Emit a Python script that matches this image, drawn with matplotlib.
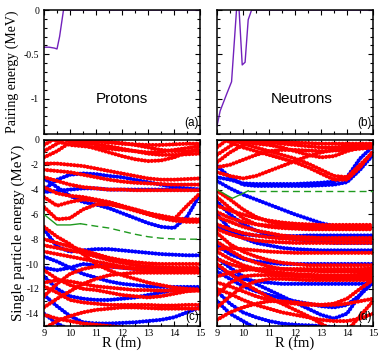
import numpy as np
import matplotlib
matplotlib.use("Agg")
import matplotlib.pyplot as plt
from matplotlib.ticker import MultipleLocator

# ---------------- data ----------------
R = [9, 9.5, 10, 10.5, 11, 11.5, 12, 12.5, 13, 13.5, 14, 14.5, 15]

# pairing energies
pair_p_R = [9.0, 9.2, 9.4, 9.5, 9.6, 9.75, 10.0, 15.0]
pair_p_E = [-0.42, -0.42, -0.43, -0.44, -0.30, 0.0, 0.0, 0.0]
pair_n_R = [9.0, 9.12, 9.37, 9.56, 9.75, 9.85, 9.97, 10.08, 10.2, 10.33, 15.0]
pair_n_E = [-1.31, -1.14, -0.95, -0.81, 0.0, 0.0, -0.62, -0.59, -0.11, 0.0, 0.0]

# proton single-particle levels (c)
prot_red = [
    [-0.4, 0.2, 0.8, 1, 1, 1, 1, 1, 1, 1, 1, 1, 1],
    [-0.9, -0.3, 0.3, 1, 1, 1, 1, 1, 1, 1, 1, 1, 1],
    [-1.4, -0.9, -0.2, 0.5, 1, 1, 1, 1, 1, 1, 1, 1, 1],
    [0.5, 0.2, -0.1, -0.4, -0.7, -1.0, -1.3, -1.55, -1.7, -1.65, -1.4, -1.0, -0.7],
    [1, 0.4, 0.0, -0.2, -0.35, -0.5, -0.7, -0.9, -1.0, -0.95, -0.8, -0.65, -0.5],
    [1, 1, 0.3, 0.05, -0.1, -0.15, -0.25, -0.4, -0.6, -0.8, -0.9, -0.9, -0.85],
    [1, 0.5, 0.1, -0.1, -0.15, -0.2, -0.3, -0.35, -0.4, -0.4, -0.35, -0.3, -0.3],
    [0.5, -0.1, -0.4, -0.5, -0.6, -0.7, -0.8, -0.9, -1.1, -1.2, -1.2, -1.15, -1.1],
    [-1.9, -1.9, -2.0, -2.1, -2.3, -2.5, -2.7, -2.9, -3.1, -3.2, -3.2, -3.15, -3.1],
    [-2.4, -2.5, -2.6, -2.8, -3.0, -3.2, -3.35, -3.45, -3.5, -3.55, -3.6, -3.6, -3.6],
    [-3.0, -3.3, -3.6, -3.8, -3.9, -4.0, -4.0, -4.05, -4.05, -4.05, -4.05, -4.05, -4.05],
    [-3.8, -4.3, -4.5, -4.6, -4.8, -5.0, -5.3, -5.6, -5.9, -6.2, -6.4, -5.3, -4.3],
    [-4.6, -5.3, -5.0, -4.8, -4.9, -5.1, -5.4, -5.7, -6.0, -6.3, -6.5, -6.6, -6.6],
    [-5.4, -6.4, -6.3, -5.6, -5.2, -5.2, -5.4, -5.6, -5.9, -6.1, -6.3, -6.4, -6.4],
    [-7.0, -7.8, -8.4, -9.2, -10.0, -10.5, -10.9, -11.2, -11.5, -11.7, -11.9, -12.0, -12.05],
    [-8.0, -8.3, -8.6, -8.9, -9.2, -9.5, -9.7, -9.85, -9.95, -10.0, -10.0, -10.0, -10.0],
    [-8.5, -8.7, -8.9, -9.1, -9.4, -9.7, -9.9, -10.1, -10.2, -10.25, -10.3, -10.3, -10.3],
    [-9.0, -9.2, -9.4, -9.6, -9.8, -10.0, -10.2, -10.35, -10.45, -10.5, -10.5, -10.5, -10.5],
    [-12.6, -11.6, -10.8, -10.4, -10.2, -10.2, -10.3, -10.4, -10.5, -10.5, -10.55, -10.55, -10.55],
    [-13.5, -12.8, -12.2, -11.6, -11.2, -10.9, -10.8, -10.7, -10.7, -10.7, -10.7, -10.7, -10.7],
    [-11.5, -11.3, -11.4, -11.6, -11.8, -11.9, -12.0, -12.1, -12.1, -12.15, -12.15, -12.15, -12.15],
    [-11.8, -12.3, -12.9, -13.1, -13.2, -13.3, -13.3, -13.3, -13.3, -13.35, -13.35, -13.3, -13.3],
    [-10.5, -11.2, -11.7, -12.0, -12.1, -12.3, -12.5, -12.6, -12.7, -12.6, -12.4, -12.2, -12.1],
    [-14.1, -14.4, -14.6, -14.8, -14.9, -15.0, -15.1, -15.2, -15.3, -15.4, -15.5, -15.5, -15.5],
    [-15.2, -14.6, -14.2, -13.9, -13.7, -13.6, -13.5, -13.5, -13.55, -13.6, -13.6, -13.6, -13.6],
]
prot_blue = [
    [-4.0, -3.2, -2.8, -2.7, -2.75, -2.9, -3.0, -3.2, -3.4, -3.6, -3.8, -3.9, -4.0],
    [-3.1, -3.8, -4.5, -5.0, -5.2, -5.5, -5.9, -6.3, -6.7, -7.0, -7.1, -6.2, -4.4],
    [-4.2, -4.1, -4.0, -3.9, -3.9, -4.0, -4.0, -4.0, -4.0, -4.0, -4.0, -4.0, -4.0],
    [-7.2, -8.6, -9.0, -8.9, -8.8, -8.8, -8.9, -9.0, -9.1, -9.2, -9.25, -9.3, -9.3],
    [-9.4, -9.8, -10.3, -10.8, -11.1, -11.4, -11.6, -11.7, -11.8, -11.85, -11.85, -11.85, -11.85],
    [-10.3, -10.5, -10.3, -10.0, -10.1, -10.2, -10.3, -10.4, -10.4, -10.4, -10.4, -10.4, -10.4],
    [-11.0, -12.0, -12.6, -12.8, -12.9, -12.9, -12.8, -12.7, -12.5, -12.3, -12.1, -12.0, -11.95],
    [-12.5, -13.4, -14.2, -14.7, -14.8, -14.8, -14.75, -14.7, -14.6, -14.5, -14.3, -13.9, -13.5],
    [-14.0, -14.8, -15.3, -15.6, -15.8, -16, -16, -16, -16, -16, -16, -16, -16],
]

# neutron single-particle levels (d)
neut_red = [
    [-0.6, 0.2, 1, 1, 1, 1, 1, 1, 1, 1, 1, 1, 1],
    [-1.2, -0.5, 0.2, 1, 1, 1, 1, 1, 1, 1, 1, 1, 1],
    [0.5, -0.2, -0.6, -0.9, -1.2, -1.5, -1.8, -2.2, -2.7, -3.2, -3.2, -2.2, -0.9],
    [1, 0.2, -0.3, -0.6, -0.9, -1.2, -1.5, -1.9, -2.4, -2.9, -3.0, -2.0, -1.0],
    [0.3, 0.0, -0.2, -0.3, -0.4, -0.6, -0.9, -1.2, -1.4, -1.3, -0.9, -0.6, -0.5],
    [1, 0.5, 0.0, -0.1, -0.2, -0.3, -0.4, -0.5, -0.6, -0.6, -0.5, -0.4, -0.35],
    [-1.8, -1.0, -0.4, -0.1, 0.0, -0.1, -0.2, -0.25, -0.3, -0.3, -0.3, -0.3, -0.3],
    [-2.2, -2.0, -1.6, -1.2, -0.9, -0.8, -0.8, -0.85, -0.9, -0.85, -0.8, -0.7, -0.6],
    [-2.6, -2.9, -3.1, -2.9, -2.5, -2.1, -1.7, -1.3, -1.0, -0.8, -0.7, -0.65, -0.6],
    [-4.1, -4.8, -5.6, -6.2, -6.6, -6.8, -6.9, -6.95, -7.0, -7.0, -7.0, -7.0, -7.0],
    [-4.6, -5.5, -6.3, -6.8, -7.0, -7.1, -7.15, -7.2, -7.2, -7.2, -7.2, -7.2, -7.2],
    [-5.3, -5.7, -6.0, -6.3, -6.5, -6.65, -6.75, -6.8, -6.85, -6.85, -6.85, -6.85, -6.85],
    [-5.8, -6.3, -6.6, -6.8, -6.9, -6.95, -7.0, -7.05, -7.1, -7.1, -7.1, -7.1, -7.1],
    [-6.2, -6.6, -7.0, -7.3, -7.5, -7.7, -7.8, -7.85, -7.9, -7.9, -7.9, -7.9, -7.9],
    [-6.8, -7.2, -7.5, -7.7, -7.85, -7.95, -8.0, -8.05, -8.05, -8.05, -8.05, -8.05, -8.05],
    [-7.2, -7.6, -7.9, -8.1, -8.2, -8.25, -8.3, -8.3, -8.3, -8.3, -8.3, -8.3, -8.3],
    [-8.8, -8.7, -8.8, -8.9, -9.0, -9.05, -9.1, -9.1, -9.1, -9.1, -9.1, -9.1, -9.1],
    [-7.5, -8.4, -9.0, -9.4, -9.7, -9.9, -10.0, -10.1, -10.1, -10.1, -10.1, -10.1, -10.1],
    [-11.0, -10.7, -10.5, -10.4, -10.4, -10.4, -10.4, -10.4, -10.4, -10.4, -10.4, -10.4, -10.35],
    [-8.2, -8.9, -9.5, -9.9, -10.2, -10.4, -10.5, -10.55, -10.6, -10.6, -10.6, -10.6, -10.6],
    [-9.0, -9.6, -10.1, -10.4, -10.6, -10.7, -10.8, -10.85, -10.9, -10.9, -10.9, -10.85, -10.8],
    [-9.6, -10.0, -10.3, -10.5, -10.7, -10.8, -10.9, -10.95, -11.0, -11.0, -11.0, -11.0, -11.0],
    [-12.5, -11.5, -11.0, -10.9, -10.9, -10.95, -11.0, -11.05, -11.1, -11.1, -11.1, -11.1, -11.1],
    [-13.5, -12.6, -11.8, -11.4, -11.2, -11.2, -11.25, -11.3, -11.3, -11.3, -11.3, -11.3, -11.3],
    [-10.0, -10.8, -11.5, -12.1, -12.7, -13.2, -13.7, -14.2, -14.8, -15.4, -16, -16, -16],
    [-11.5, -11.8, -12.2, -12.6, -12.9, -13.1, -13.2, -13.3, -13.3, -13.2, -12.8, -12.0, -11.3],
    [-12.0, -12.4, -12.9, -13.3, -13.6, -13.9, -14.1, -14.3, -14.5, -14.6, -14.6, -14.4, -14.0],
    [-14.5, -13.9, -13.5, -13.2, -13.0, -13.0, -13.1, -13.2, -13.3, -13.3, -13.2, -13.0, -12.8],
    [-16, -16, -16, -16, -16, -16, -16, -16, -16, -16, -15.4, -14.2, -13.0],
]
neut_blue = [
    [-3.0, -3.2, -3.5, -3.55, -3.55, -3.55, -3.55, -3.5, -3.45, -3.35, -3.0, -1.5, -0.5],
    [-2.1, -3.0, -3.6, -3.7, -3.7, -3.7, -3.7, -3.7, -3.65, -3.6, -3.4, -2.4, -1.2],
    [-3.3, -3.9, -4.4, -4.8, -5.2, -5.6, -6.0, -6.35, -6.7, -6.95, -7.05, -7.1, -7.1],
    [-5.0, -6.0, -6.8, -7.3, -7.6, -7.8, -8.0, -8.1, -8.2, -8.3, -8.3, -8.3, -8.3],
    [-7.0, -7.4, -7.6, -7.7, -7.75, -7.75, -7.75, -7.7, -7.7, -7.7, -7.7, -7.7, -7.7],
    [-6.0, -7.2, -7.9, -8.3, -8.5, -8.7, -8.8, -8.85, -8.9, -8.9, -8.9, -8.9, -8.9],
    [-8.5, -9.2, -9.6, -9.8, -9.9, -10.0, -10.0, -10.0, -10.0, -10.0, -10.0, -10.0, -10.0],
    [-10.2, -10.8, -11.2, -11.4, -11.5, -11.6, -11.6, -11.6, -11.6, -11.6, -11.6, -11.6, -11.6],
    [-9.5, -10.3, -11.0, -11.6, -12.1, -12.6, -13.1, -13.6, -14.1, -14.4, -14.0, -12.5, -11.0],
    [-10.6, -11.2, -11.8, -12.2, -12.5, -12.8, -13.0, -13.2, -13.4, -13.5, -13.3, -12.5, -11.5],
    [-12.2, -13.2, -13.9, -14.3, -14.6, -14.8, -14.9, -14.95, -15.0, -15.1, -15.2, -15.2, -15.2],
    [-13.0, -14.0, -14.6, -15.2, -16, -16, -16, -16, -16, -16, -16, -16, -16],
]

# Fermi levels (solid part, dashed part)
fermi_p_R_solid = [9.0, 9.5, 10.0, 10.4]
fermi_p_E_solid = [-6.0, -6.85, -6.85, -6.75]
fermi_p_R_dash = [10.4, 11, 11.5, 12, 12.5, 13, 13.5, 14, 14.5, 15]
fermi_p_E_dash = [-6.75, -6.95, -7.1, -7.35, -7.6, -7.8, -7.92, -7.98, -8.0, -8.0]
fermi_n_R_solid = [9.0, 9.5, 9.6, 10.0, 10.2]
fermi_n_E_solid = [-4.0, -4.6, -4.7, -4.3, -4.1]
fermi_n_R_dash = [10.2, 11, 12, 13, 14, 15]
fermi_n_E_dash = [-4.1, -4.1, -4.1, -4.1, -4.1, -4.1]

# ---------------- styling ----------------
RED = "#ff0000"
BLUE = "#0000ff"
PURPLE = "#7221bc"
GREEN = "#1f9a1f"
SERIF = ["Liberation Serif", "DejaVu Serif"]
SANS = ["Liberation Sans", "DejaVu Sans"]

W, H = 382, 354
fig = plt.figure(figsize=(W / 100, H / 100), dpi=100)

def ax_at(x0, x1, y0, y1):
    return fig.add_axes([x0 / W, 1 - y1 / H, (x1 - x0) / W, (y1 - y0) / H])

axa = ax_at(44, 200, 10, 134)
axb = ax_at(217, 373, 10, 134)
axc = ax_at(44, 200, 140, 326)
axd = ax_at(217, 373, 140, 326)

def style(ax):
    for s in ax.spines.values():
        s.set_linewidth(1.1)
    ax.set_xlim(9, 15)
    ax.xaxis.set_major_locator(MultipleLocator(1))
    ax.xaxis.set_minor_locator(MultipleLocator(0.5))
    ax.tick_params(which="both", direction="in", top=True, right=True,
                   width=0.8, labelsize=7)
    ax.tick_params(which="major", length=3.5)
    ax.tick_params(which="minor", length=2)

for ax in (axa, axb, axc, axd):
    style(ax)

for ax in (axa, axb):
    ax.set_ylim(-1.4, 0)
    ax.yaxis.set_major_locator(MultipleLocator(0.5))
    ax.yaxis.set_minor_locator(MultipleLocator(0.1))
for ax in (axc, axd):
    ax.set_ylim(-15, 0)
    ax.yaxis.set_major_locator(MultipleLocator(2))
    ax.yaxis.set_minor_locator(MultipleLocator(1))

axa.plot(pair_p_R, pair_p_E, color=PURPLE, lw=1.0)
axb.plot(pair_n_R, pair_n_E, color=PURPLE, lw=1.0)

dot = dict(lw=3.0, ls=(0, (0.01, 0.8)), dash_capstyle="round")
for ax, reds, blues in ((axc, prot_red, prot_blue), (axd, neut_red, neut_blue)):
    for e in blues:
        ax.plot(R, e, color=BLUE, **dot)
    for e in reds:
        ax.plot(R, e, color=RED, **dot)

axc.plot(fermi_p_R_solid, fermi_p_E_solid, color=GREEN, lw=1.0, zorder=5)
axc.plot(fermi_p_R_dash, fermi_p_E_dash, color=GREEN, lw=1.0, ls=(0, (5, 3)), zorder=5)
axd.plot(fermi_n_R_solid, fermi_n_E_solid, color=GREEN, lw=1.0, zorder=5)
axd.plot(fermi_n_R_dash, fermi_n_E_dash, color=GREEN, lw=1.0, ls=(0, (5, 3)), zorder=5)

axa.set_yticks([-1, -0.5, 0])
axa.set_yticklabels(["-1", "-0.5", "0"], family=SERIF, fontsize=7)
axa.set_xticklabels([])
axb.set_xticklabels([])
axb.set_yticklabels([])
axd.set_yticklabels([])
axc.set_yticks([-14, -12, -10, -8, -6, -4, -2, 0])
axc.set_yticklabels(["-14", "-12", "-10", "-8", "-6", "-4", "-2", "0"], family=SERIF, fontsize=7)
for ax in (axc, axd):
    ax.set_xticks([9, 10, 11, 12, 13, 14, 15])
    ax.set_xticklabels(["9", "10", "11", "12", "13", "14", "15"], family=SERIF, fontsize=7.5)
    ax.tick_params(axis="x", which="major", pad=2)

axa.set_ylabel("Pairing energy (MeV)", family=SERIF, fontsize=10, labelpad=3)
axc.set_ylabel("Single particle energy (MeV)", family=SERIF, fontsize=10.8, labelpad=1)
axc.set_xlabel("R (fm)", family=SERIF, fontsize=10.5, labelpad=-1)
axd.set_xlabel("R (fm)", family=SERIF, fontsize=10.5, labelpad=-1)

axa.text(12.0, -1.0, "Protons", family=SANS, fontsize=11, ha="center", va="center")
axb.text(12.25, -1.0, "Neutrons", family=SANS, fontsize=11, ha="center", va="center")
axa.text(14.95, -1.28, "(a)", family=SANS, fontsize=8.5, ha="right", va="center")
axb.text(14.95, -1.28, "(b)", family=SANS, fontsize=8.5, ha="right", va="center")
axc.text(14.95, -14.3, "(c)", family=SANS, fontsize=8.5, ha="right", va="center", zorder=6)
axd.text(14.95, -14.3, "(d)", family=SANS, fontsize=8.5, ha="right", va="center", zorder=6)

fig.savefig("out.png", dpi=100)
